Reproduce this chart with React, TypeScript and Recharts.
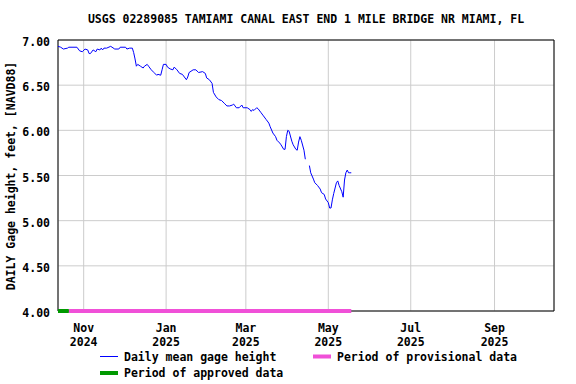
import {
  LineChart,
  Line,
  XAxis,
  YAxis,
  CartesianGrid,
  ReferenceArea,
} from 'recharts';

const title = 'USGS 02289085 TAMIAMI CANAL EAST END 1 MILE BRIDGE NR MIAMI, FL';
const yLabel = 'DAILY Gage height, feet, [NAVD88]';

// daily mean gage height (null = missing days)
const dates = [
  '2024-10-13', '2024-10-15', '2024-10-17', '2024-10-20', '2024-10-21', '2024-10-27',
  '2024-10-29', '2024-10-31', '2024-11-02', '2024-11-04', '2024-11-05', '2024-11-06',
  '2024-11-08', '2024-11-10', '2024-11-11', '2024-11-13', '2024-11-14', '2024-11-15',
  '2024-11-16', '2024-11-18', '2024-11-21', '2024-11-24', '2024-11-27', '2024-11-28',
  '2024-12-02', '2024-12-03', '2024-12-05', '2024-12-07', '2024-12-08', '2024-12-09',
  '2024-12-10', '2024-12-11', '2024-12-13', '2024-12-15', '2024-12-16', '2024-12-18',
  '2024-12-19', '2024-12-21', '2024-12-23', '2024-12-25', '2024-12-26', '2024-12-28',
  '2024-12-29', '2024-12-30', '2025-01-01', '2025-01-02', '2025-01-04', '2025-01-06',
  '2025-01-07', '2025-01-09', '2025-01-11', '2025-01-13', '2025-01-16', '2025-01-17',
  '2025-01-18', '2025-01-21', '2025-01-23', '2025-01-25', '2025-01-28', '2025-01-30',
  '2025-01-31', '2025-02-02', '2025-02-04', '2025-02-05', '2025-02-07', '2025-02-09',
  '2025-02-11', '2025-02-13', '2025-02-15', '2025-02-17', '2025-02-19', '2025-02-20',
  '2025-02-21', '2025-02-22', '2025-02-24', '2025-02-26', '2025-02-27', '2025-03-02',
  '2025-03-04', '2025-03-05', '2025-03-06', '2025-03-07', '2025-03-09', '2025-03-10',
  '2025-03-12', '2025-03-14', '2025-03-16', '2025-03-18', '2025-03-19', '2025-03-21',
  '2025-03-23', '2025-03-24', '2025-03-26', '2025-03-27', '2025-03-29', '2025-03-30',
  '2025-03-31', '2025-04-01', '2025-04-02', '2025-04-04', '2025-04-05', '2025-04-07',
  '2025-04-08', '2025-04-09', '2025-04-10', '2025-04-11', '2025-04-13', '2025-04-14',
  '2025-04-15', '2025-04-16', '2025-04-17', '2025-04-18', '2025-04-20', '2025-04-21',
  '2025-04-23', '2025-04-25', '2025-04-26', '2025-04-28', '2025-04-29', '2025-05-01',
  '2025-05-02', '2025-05-03', '2025-05-04', '2025-05-05', '2025-05-07', '2025-05-08',
  '2025-05-09', '2025-05-11', '2025-05-12', '2025-05-13', '2025-05-14', '2025-05-15',
  '2025-05-16', '2025-05-17', '2025-05-18',
];

const gageHeight: (number | null)[] = [
  6.93, 6.92, 6.9, 6.91, 6.92, 6.92,
  6.88, 6.87, 6.9, 6.89, 6.85, 6.85,
  6.89, 6.87, 6.9, 6.89, 6.91, 6.89,
  6.91, 6.91, 6.93, 6.9, 6.9, 6.92,
  6.92, 6.9, 6.91, 6.91, 6.86, 6.79,
  6.71, 6.73, 6.71, 6.69, 6.71, 6.73,
  6.71, 6.67, 6.64, 6.61, 6.62, 6.61,
  6.67, 6.73, 6.73, 6.7, 6.68, 6.67,
  6.7, 6.67, 6.63, 6.62, 6.56, 6.59,
  6.64, 6.67, 6.67, 6.64, 6.65, 6.63,
  6.58, 6.56, 6.52, 6.42, 6.37, 6.34,
  6.33, 6.3, 6.27, 6.27, 6.28, 6.29,
  6.27, 6.25, 6.25, 6.28, 6.25, 6.25,
  6.23, 6.21, 6.23, 6.22, 6.25, 6.24,
  6.2, 6.16, 6.12, 6.08, 6.04, 5.97,
  5.93, 5.89, 5.86, 5.84, 5.79, 5.79,
  5.93, 6.0, 5.99, 5.88, 5.84, 5.79,
  5.78, 5.87, 5.93, 5.89, 5.78, 5.68,
  null, null, 5.61, 5.53, 5.46, 5.42,
  5.39, 5.35, 5.31, 5.29, 5.24, 5.2,
  5.14, 5.14, 5.23, 5.3, 5.42, 5.44,
  5.39, 5.32, 5.26, 5.45, 5.53, 5.56,
  5.53, 5.53, 5.53,
];

const approvedPeriod = ['2024-10-13', '2024-10-21'];
const provisionalPeriod = ['2024-10-21', '2025-05-18'];

const xRange = ['2024-10-13', '2025-10-15'];
const tickDates = ['2024-11-01', '2025-01-01', '2025-03-01', '2025-05-01', '2025-07-01', '2025-09-01'];
const tickMonths = ['Nov', 'Jan', 'Mar', 'May', 'Jul', 'Sep'];
const tickYears = ['2024', '2025', '2025', '2025', '2025', '2025'];
const yTicks = [4, 4.5, 5, 5.5, 6, 6.5, 7];

const toTime = (d: string) => Date.parse(d + 'T00:00:00Z');

const data = dates.map((d, i) => ({ t: toTime(d), value: gageHeight[i] }));
const approvedData = approvedPeriod.map((d) => ({ t: toTime(d), value: 4 }));
const provisionalData = provisionalPeriod.map((d) => ({ t: toTime(d), value: 4 }));
const xTicks = tickDates.map(toTime);

const FONT = '"DejaVu Sans Mono", monospace';

function DateTick({ x, y, payload }: any) {
  const i = xTicks.indexOf(payload.value);
  return (
    <text x={x} y={y} textAnchor="middle" fill="#000" fontFamily={FONT} fontWeight="bold" fontSize={11.5}>
      <tspan x={x} dy={19}>{tickMonths[i]}</tspan>
      <tspan x={x} dy={14}>{tickYears[i]}</tspan>
    </text>
  );
}

export default function App() {
  return (
    <div style={{ position: 'relative', width: 576, height: 384, background: '#fff' }}>
      <style>{'body{margin:0}'}</style>
      <LineChart
        width={576}
        height={384}
        data={data}
        margin={{ top: 40, right: 22, left: 0, bottom: 0 }}
        style={{ position: 'absolute', left: 0, top: 0 }}
      >
        <CartesianGrid stroke="#cccccc" strokeWidth={1} />
        <XAxis
          dataKey="t"
          type="number"
          scale="time"
          domain={[toTime(xRange[0]), toTime(xRange[1])]}
          ticks={xTicks}
          interval={0}
          tick={<DateTick />}
          tickLine={false}
          tickSize={0}
          axisLine={false}
          height={73}
        />
        <YAxis
          domain={[4, 7]}
          ticks={yTicks}
          interval={0}
          tickFormatter={(v: number) => v.toFixed(2)}
          tick={{ fill: '#000', fontFamily: FONT, fontWeight: 'bold', fontSize: 11.5, dy: 2 }}
          tickLine={false}
          tickSize={0}
          tickMargin={8}
          axisLine={false}
          width={58}
        />
        <ReferenceArea
          x1={toTime(xRange[0])}
          x2={toTime(xRange[1])}
          y1={4}
          y2={7}
          fill="none"
          stroke="#000"
          strokeWidth={1}
          fillOpacity={0}
        />
        <Line
          data={provisionalData}
          dataKey="value"
          stroke="#f050d8"
          strokeWidth={4}
          dot={false}
          isAnimationActive={false}
        />
        <Line
          data={approvedData}
          dataKey="value"
          stroke="#009900"
          strokeWidth={4}
          dot={false}
          isAnimationActive={false}
        />
        <Line
          dataKey="value"
          stroke="#0000ff"
          strokeWidth={1}
          dot={false}
          isAnimationActive={false}
        />
      </LineChart>
      <svg
        width={576}
        height={384}
        style={{ position: 'absolute', left: 0, top: 0, pointerEvents: 'none' }}
        fontFamily={FONT}
        fontWeight="bold"
        fontSize={11.5}
      >
        <text x={306} y={23} textAnchor="middle" fill="#000">{title}</text>
        <text x={15} y={176} textAnchor="middle" fill="#000" transform="rotate(-90 15 176)">
          {yLabel}
        </text>
        <line x1={100} x2={118} y1={356.5} y2={356.5} stroke="#0000ff" strokeWidth={1} />
        <text x={124} y={361} fill="#000">Daily mean gage height</text>
        <rect x={313} y={354.5} width={18} height={4} fill="#f050d8" />
        <text x={337} y={361} fill="#000">Period of provisional data</text>
        <rect x={100} y={371} width={18} height={4} fill="#009900" />
        <text x={124} y={377} fill="#000">Period of approved data</text>
      </svg>
    </div>
  );
}
